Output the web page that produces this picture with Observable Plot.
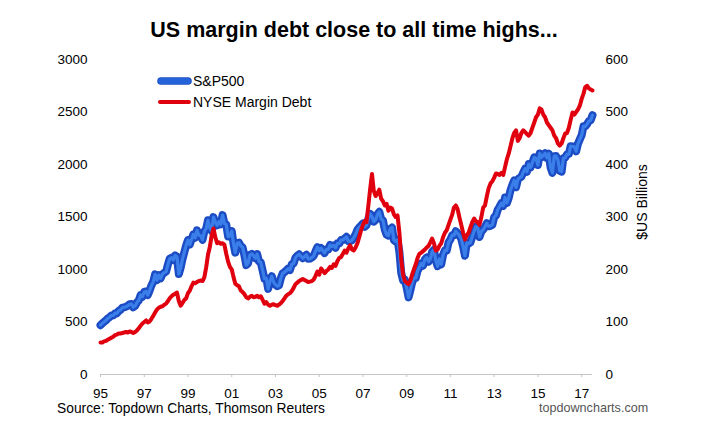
<!DOCTYPE html>
<html><head><meta charset="utf-8">
<script src="https://cdn.jsdelivr.net/npm/d3@7"></script>
<script src="https://cdn.jsdelivr.net/npm/@observablehq/plot@0.6"></script>
<style>
body{margin:0;background:#fff;font-family:"Liberation Sans",Arial,sans-serif;}
#wrap{position:relative;width:708px;height:426px;overflow:hidden;background:#fff}
#wrap svg{position:absolute;left:0;top:0}
.t{position:absolute;white-space:nowrap}
#title{left:0;width:708px;top:14.5px;height:30px;line-height:30px;text-align:center;font-weight:bold;font-size:21.5px;color:#000}
.leg{left:158px;height:20px;display:flex;align-items:center;font-size:14px;color:#000}
.sw{display:inline-block;width:33px;border-radius:3px;margin-right:2px}
#src{left:57px;top:399px;height:20px;line-height:20px;font-size:13.8px;color:#000}
#site{left:539px;top:398px;height:20px;line-height:20px;font-size:12.6px;color:#555}
</style></head>
<body>
<div id="wrap">
  <div class="t" id="title">US margin debt close to all time highs...</div>
</div>
<script>
const startYear = 1995;
const seriesNames = ["S&P500", "NYSE Margin Debt"];
const seriesColors = ["#2462d8", "#e0000e"];
const xTickYears = [1995,1997,1999,2001,2003,2005,2007,2009,2011,2013,2015,2017];
const leftTicks = [0,500,1000,1500,2000,2500,3000];
const rightTicks = [0,100,200,300,400,500,600];
const rightAxisLabel = "$US Billions";
const sourceText = "Source: Topdown Charts, Thomson Reuters";
const siteText = "topdowncharts.com";

// S&P 500, monthly from Jan 1995 (left axis)
const sp500 = [
  470,487,501,515,533,545,562,562,584,582,605,616,
  636,640,646,654,669,671,640,652,687,705,757,741,
  786,791,757,801,848,885,954,899,947,915,955,970,
  980,1049,1102,1112,1091,1134,1121,957,1017,1099,1164,1229,
  1280,1238,1286,1335,1302,1373,1329,1320,1283,1363,1389,1469,
  1394,1366,1499,1452,1421,1455,1431,1518,1437,1429,1315,1320,
  1366,1240,1160,1249,1256,1224,1211,1134,1041,1060,1139,1148,
  1130,1107,1147,1077,1067,990,912,916,815,886,936,880,
  856,841,848,917,964,975,990,1008,996,1051,1058,1112,
  1131,1145,1126,1107,1121,1141,1102,1104,1115,1130,1174,1212,
  1181,1204,1181,1157,1192,1191,1234,1220,1229,1207,1249,1248,
  1280,1281,1295,1311,1270,1270,1277,1304,1336,1378,1401,1418,
  1438,1407,1421,1482,1531,1503,1455,1474,1527,1549,1481,1468,
  1379,1331,1323,1386,1400,1280,1267,1283,1166,969,896,903,
  826,735,798,873,919,919,987,1021,1057,1036,1096,1115,
  1074,1104,1169,1187,1089,1031,1102,1049,1141,1183,1181,1258,
  1286,1327,1326,1364,1345,1321,1292,1219,1131,1253,1247,1258,
  1312,1366,1408,1398,1310,1362,1379,1407,1441,1412,1416,1426,
  1498,1515,1569,1598,1631,1606,1686,1633,1682,1757,1806,1848,
  1783,1859,1872,1884,1924,1960,1931,2003,1972,2018,2068,2059,
  1995,2105,2068,2086,2107,2063,2104,1972,1920,2079,2080,2044,
  1940,1932,2060,2065,2097,2099,2174,2171,2168,2126,2199,2239,
  2279,2364,2363,2384,2412,2423,2470
];

// NYSE margin debt, $US billions, monthly from Jan 1995 (right axis)
const marginDebt = [
  61,61,63,64,66,68,70,72,75,76,78,78,
  79,80,81,80,82,81,79,81,84,88,93,97,
  100,103,99,101,106,112,118,124,127,129,130,133,
  135,140,145,149,152,154,156,140,131,136,142,145,
  155,160,168,175,174,176,178,179,178,185,204,228,
  243,265,278,262,250,252,249,250,247,230,215,205,
  200,185,173,170,168,160,157,153,147,145,148,150,
  147,148,150,147,149,142,135,138,133,131,133,134,
  132,131,133,136,140,145,150,153,155,159,165,172,
  175,178,180,182,180,178,176,177,178,181,188,196,
  190,202,198,193,197,200,205,203,210,207,216,222,
  224,230,236,232,240,246,238,236,242,250,262,275,
  285,292,290,321,353,382,350,340,345,352,335,330,
  322,325,312,318,316,305,300,303,270,220,190,178,
  175,172,178,190,200,210,222,230,232,235,238,242,
  245,252,259,250,236,238,245,250,262,270,275,285,
  295,305,318,322,315,299,285,270,257,265,270,280,
  290,297,292,290,285,300,318,322,340,355,364,368,
  375,383,382,380,384,380,395,410,421,435,450,460,
  465,445,450,460,465,462,458,455,460,470,480,490,
  495,507,505,495,490,480,475,470,465,455,450,440,
  436,440,450,459,460,470,485,499,495,500,505,512,
  525,535,547,550,545,543,541
];

const ratio = leftTicks[leftTicks.length-1] / rightTicks[rightTicks.length-1];
const data = sp500.map((v, i) => ({
  date: new Date(Date.UTC(startYear, i, 1)),
  sp: v,
  debt: marginDebt[i]
}));

const chart = Plot.plot({
  width: 708, height: 426,
  marginLeft: 100, marginRight: 116, marginTop: 59, marginBottom: 52,
  style: {fontFamily: '"Liberation Sans", Arial, sans-serif', fontSize: "13.5px", color: "#000", background: "transparent"},
  x: {type: "utc", domain: [new Date(Date.UTC(startYear, 0, 1)), data[data.length-1].date]},
  y: {domain: [leftTicks[0], leftTicks[leftTicks.length-1]]},
  marks: [
    Plot.ruleY([0], {stroke: "#c4c4c4", strokeWidth: 1.2}),
    Plot.axisX({ticks: xTickYears.map(y => new Date(Date.UTC(y, 0, 1))), tickFormat: d3.utcFormat("%y"),
      tickSize: 3, tickPadding: 11, stroke: "#c4c4c4", label: null}),
    Plot.axisY({ticks: leftTicks, tickFormat: d => String(d), tickSize: 0, tickPadding: 13, label: null}),
    Plot.axisY({anchor: "right", ticks: leftTicks, tickFormat: d => String(d / ratio), tickSize: 0, tickPadding: 13, label: null}),
    Plot.text([rightAxisLabel], {frameAnchor: "right", textAnchor: "middle", dx: 50, dy: -15, rotate: -90, fontSize: 14, fill: "#000"}),
    Plot.line(data, {x: "date", y: "sp", stroke: "#1c4cc4", strokeWidth: 8, strokeLinejoin: "round"}),
    Plot.line(data, {x: "date", y: "sp", stroke: "#3a7eea", strokeWidth: 3.2, strokeLinejoin: "round"}),
    Plot.line(data, {x: "date", y: d => d.debt * ratio, stroke: seriesColors[1], strokeWidth: 4, strokeLinejoin: "round"})
  ]
});
const wrap = document.getElementById("wrap");
wrap.insertBefore(chart, wrap.firstChild);

// legend
const legTops = [71, 92];
const swH = [6, 4];
seriesNames.forEach((name, i) => {
  const row = document.createElement("div");
  row.className = "t leg";
  row.style.top = legTops[i] + "px";
  const sw = document.createElement("span");
  sw.className = "sw";
  sw.style.height = swH[i] + "px";
  sw.style.background = seriesColors[i];
  if (i === 0) sw.style.boxShadow = "0 0 0 0.8px #1c4cc4";
  row.appendChild(sw);
  row.appendChild(document.createTextNode(name));
  wrap.appendChild(row);
});
const src = document.createElement("div");
src.className = "t"; src.id = "src"; src.textContent = sourceText;
wrap.appendChild(src);
const site = document.createElement("div");
site.className = "t"; site.id = "site"; site.textContent = siteText;
wrap.appendChild(site);
</script>
</body></html>
